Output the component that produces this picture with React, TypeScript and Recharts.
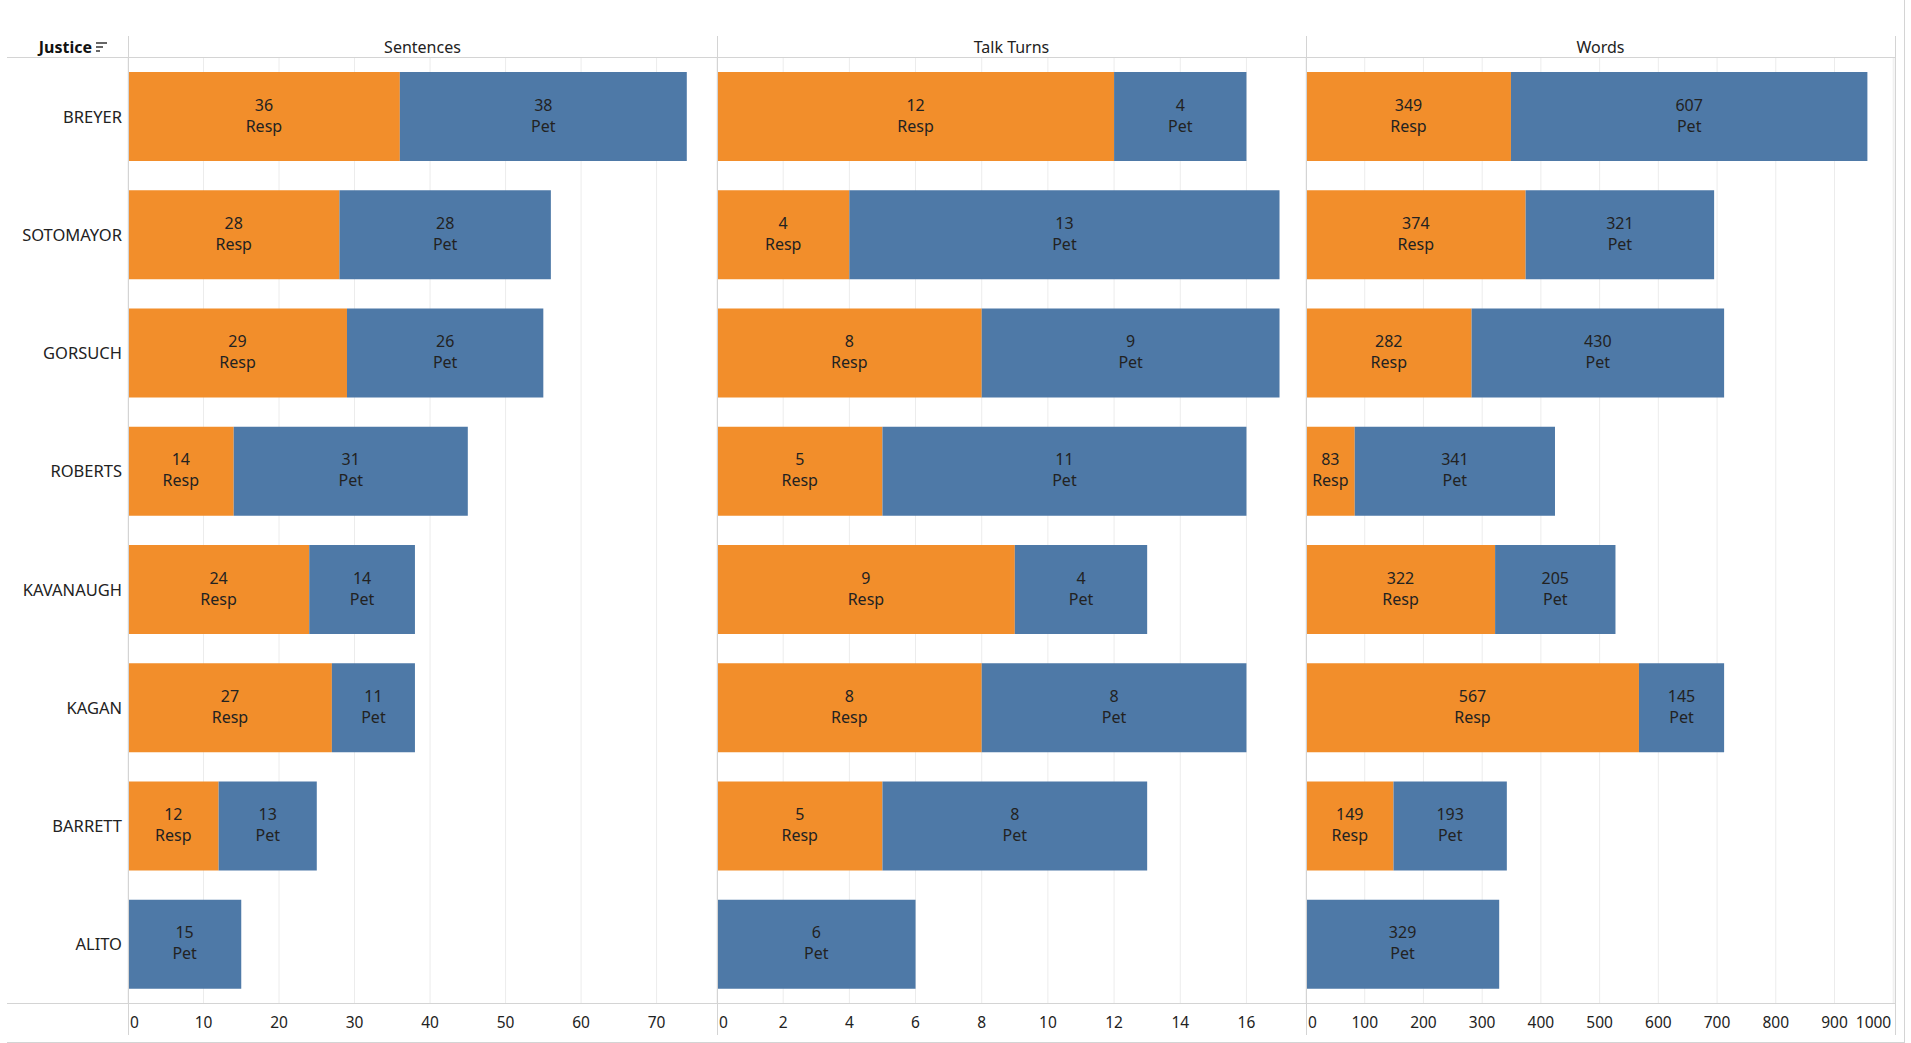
import React from "react";
import { BarChart, Bar, XAxis, YAxis, CartesianGrid, LabelList } from "recharts";

const justices = ["BREYER", "SOTOMAYOR", "GORSUCH", "ROBERTS", "KAVANAUGH", "KAGAN", "BARRETT", "ALITO"];

const sentencesResp = [36, 28, 29, 14, 24, 27, 12, 0];
const sentencesPet = [38, 28, 26, 31, 14, 11, 13, 15];
const turnsResp = [12, 4, 8, 5, 9, 8, 5, 0];
const turnsPet = [4, 13, 9, 11, 4, 8, 8, 6];
const wordsResp = [349, 374, 282, 83, 322, 567, 149, 0];
const wordsPet = [607, 321, 430, 341, 205, 145, 193, 329];

const sentenceTicks = [0, 10, 20, 30, 40, 50, 60, 70];
const turnTicks = [0, 2, 4, 6, 8, 10, 12, 14, 16];
const wordTicks = [0, 100, 200, 300, 400, 500, 600, 700, 800, 900, 1000];

const ORANGE = "#F28E2B";
const BLUE = "#4E79A7";
const LINE = "#d4d4d4";
const FONT = "'Noto Sans', sans-serif";
const TEXT = "#222";

const TOP = 57;
const AXIS_Y = 1003;
const AXIS_H = 39;

const buildRows = (resp: number[], pet: number[]) =>
  justices.map((j, i) => ({ justice: j, resp: resp[i] || null, pet: pet[i] || null }));

const SegLabel = (props: any) => {
  const { x, y, width, height, value, kind } = props;
  if (!value) return null;
  const cx = x + width / 2;
  const cy = y + height / 2;
  return (
    <g>
      <text x={cx} y={cy - 12} textAnchor="middle" dominantBaseline="central" fontSize={16} fontFamily={FONT} fill={TEXT}>
        {value}
      </text>
      <text x={cx} y={cy + 9} textAnchor="middle" dominantBaseline="central" fontSize={16} fontFamily={FONT} fill={TEXT}>
        {kind}
      </text>
    </g>
  );
};

const AxisTick = (props: any) => {
  const { x, y, payload, lastEnd, lastValue } = props;
  let anchor = "middle";
  let tx = x;
  if (payload.value === 0) {
    anchor = "start";
    tx = x + 2;
  } else if (lastEnd && payload.value === lastValue) {
    anchor = "end";
    tx = x - 2;
  }
  return (
    <text x={tx} y={y + 19} textAnchor={anchor} dominantBaseline="central" fontSize={15.5} fontFamily={FONT} fill={TEXT}>
      {payload.value}
    </text>
  );
};

const JusticeTick = (props: any) => {
  const { x, y, payload } = props;
  return (
    <text x={x} y={y} textAnchor="end" dominantBaseline="central" fontSize={16.5} fontFamily={FONT} fill={TEXT}>
      {payload.value}
    </text>
  );
};

type PanelProps = {
  left: number;
  width: number;
  data: any[];
  max: number;
  ticks: number[];
  showNames?: boolean;
  lastEnd?: boolean;
};

const Panel = ({ left, width, data, max, ticks, showNames, lastEnd }: PanelProps) => (
  <div style={{ position: "absolute", left, top: TOP }}>
    <BarChart
      width={width}
      height={AXIS_Y - TOP + AXIS_H}
      data={data}
      layout="vertical"
      margin={{ top: 0, right: 0, bottom: 0, left: 0 }}
    >
      <CartesianGrid horizontal={false} stroke="#ececec" />
      <XAxis
        type="number"
        domain={[0, max]}
        ticks={ticks}
        height={AXIS_H}
        axisLine={false}
        tickLine={false}
        tickSize={0}
        tickMargin={0}
        interval={0}
        tick={<AxisTick lastEnd={lastEnd} lastValue={ticks[ticks.length - 1]} />}
      />
      <YAxis
        type="category"
        dataKey="justice"
        hide={!showNames}
        width={showNames ? 128 : 0}
        axisLine={false}
        tickLine={false}
        tickSize={0}
        tickMargin={6}
        interval={0}
        tick={<JusticeTick />}
      />
      <Bar dataKey="resp" stackId="a" fill={ORANGE} barSize={89} isAnimationActive={false}>
        <LabelList dataKey="resp" content={(p: any) => <SegLabel {...p} kind="Resp" />} />
      </Bar>
      <Bar dataKey="pet" stackId="a" fill={BLUE} barSize={89} isAnimationActive={false}>
        <LabelList dataKey="pet" content={(p: any) => <SegLabel {...p} kind="Pet" />} />
      </Bar>
    </BarChart>
  </div>
);

const hLine = (y: number, x1: number, x2: number) => (
  <div style={{ position: "absolute", left: x1, top: y, width: x2 - x1, height: 1, background: LINE }} />
);
const vLine = (x: number, y1: number, y2: number, color = LINE) => (
  <div style={{ position: "absolute", left: x, top: y1, width: 1, height: y2 - y1, background: color }} />
);

const Header = ({ left, width, text }: { left: number; width: number; text: string }) => (
  <div
    style={{
      position: "absolute",
      left,
      width,
      top: 37,
      height: 20,
      lineHeight: "20px",
      textAlign: "center",
      fontFamily: FONT,
      fontSize: 16,
      color: TEXT,
    }}
  >
    {text}
  </div>
);

export default function App() {
  return (
    <div style={{ position: "absolute", left: 0, top: 0, width: 1911, height: 1043, background: "#fff", overflow: "hidden" }}>
      <Panel left={0} width={717} data={buildRows(sentencesResp, sentencesPet)} max={78} ticks={sentenceTicks} showNames />
      <Panel left={717} width={589} data={buildRows(turnsResp, turnsPet)} max={17.8} ticks={turnTicks} />
      <Panel left={1306} width={589} data={buildRows(wordsResp, wordsPet)} max={1003} ticks={wordTicks} lastEnd />

      <div
        style={{
          position: "absolute",
          left: 0,
          width: 92,
          top: 37,
          height: 20,
          lineHeight: "20px",
          textAlign: "right",
          fontFamily: FONT,
          fontSize: 16,
          fontWeight: 700,
          color: "#111",
        }}
      >
        Justice
      </div>
      <svg style={{ position: "absolute", left: 96, top: 42 }} width={12} height={10}>
        <rect x={0} y={0} width={11} height={2} fill="#666" />
        <rect x={0} y={4} width={7} height={2} fill="#666" />
        <rect x={0} y={8} width={4} height={2} fill="#666" />
      </svg>

      <Header left={128} width={589} text="Sentences" />
      <Header left={717} width={589} text="Talk Turns" />
      <Header left={1306} width={589} text="Words" />

      {hLine(57, 7, 1896)}
      {hLine(AXIS_Y, 7, 1896)}
      {hLine(1042, 7, 1905)}
      {vLine(128, 36, 1035)}
      {vLine(717, 36, 1035)}
      {vLine(1306, 36, 1035)}
      {vLine(1895, 36, 1035)}
      {vLine(1904, 0, 1043)}
    </div>
  );
}
